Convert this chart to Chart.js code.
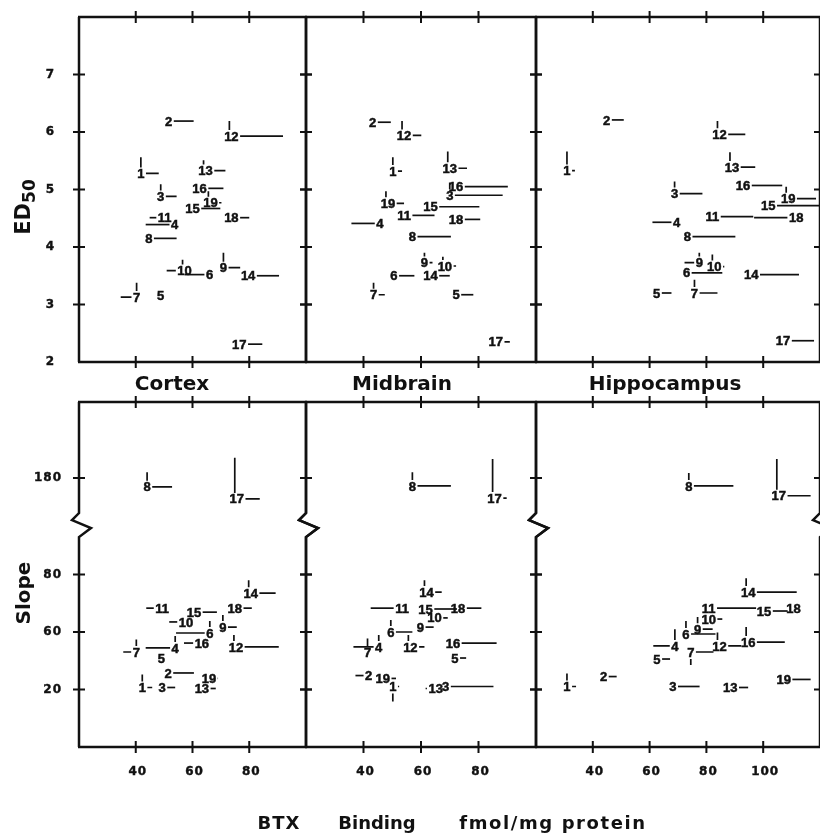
<!DOCTYPE html>
<html>
<head>
<meta charset="utf-8">
<script src="https://cdn.jsdelivr.net/npm/chart.js@4/dist/chart.umd.min.js"></script>
<style>
html, body { margin: 0; padding: 0; background: #fff; width: 820px; height: 835px; overflow: hidden; }
#wrap { position: relative; width: 820px; height: 835px; }
canvas { position: absolute; left: 0; top: 0; }
.t { position: absolute; font-family: "DejaVu Sans"; font-weight: bold; color: #111; white-space: nowrap; transform: translate(-50%, -50%); }
.rot { transform: translate(-50%, -50%) rotate(-90deg); }
</style>
</head>
<body>
<div id="wrap">
  <canvas id="cEd" width="820" height="835"></canvas>
  <canvas id="mEd" width="820" height="835"></canvas>
  <canvas id="hEd" width="840" height="835"></canvas>
  <canvas id="cSl" width="820" height="835"></canvas>
  <canvas id="mSl" width="820" height="835"></canvas>
  <canvas id="hSl" width="840" height="835"></canvas>

  <div class="t" style="left:172px;top:383px;font-size:20px">Cortex</div>
  <div class="t" style="left:402px;top:383px;font-size:20px">Midbrain</div>
  <div class="t" style="left:665px;top:383px;font-size:20px">Hippocampus</div>
  <div class="t rot" style="left:23px;top:207px;font-size:21px">ED<span style="font-size:17px;position:relative;top:5px">50</span></div>
  <div class="t rot" style="left:23px;top:593px;font-size:20px">Slope</div>
  <div class="t" style="left:279px;top:822px;font-size:18px;letter-spacing:1px">BTX</div>
  <div class="t" style="left:377px;top:822px;font-size:18px">Binding</div>
  <div class="t" style="left:553px;top:822px;font-size:18px;letter-spacing:1.6px">fmol/mg protein</div>
</div>

<script>
const ink = '#111';

// drug numbers, same order in every panel
const pointIds = ['1','2','3','4','5','6','7','8','9','10','11','12','13','14','15','16','17','18','19'];

// x = BTX binding, y = ED50 / slope, xEnd = end of horizontal bar, yEnd = end of vertical bar
const cortexEdX    = [41.8, 51.6, 48.8, 53.7, 48.8, 66.0, 40.3, 44.6, 70.9, 57.2, 50.2, 73.7, 64.6, 79.6, 60.0, 62.5, 76.5, 73.7, 66.3];
const cortexEdY    = [5.28, 6.19, 4.88, 4.39, 3.15, 3.52, 3.13, 4.15, 3.64, 3.59, 4.51, 5.93, 5.33, 3.50, 4.67, 5.02, 2.31, 4.51, 4.77];
const cortexEdXEnd = [48.1, 60.4, 54.4, 43.5, null, 57.2, 34.7, 54.4, 76.8, 50.9, 44.9, 91.9, 71.6, 90.5, 69.8, 70.9, 84.6, 80.0, 70.2];
const cortexEdYEnd = [5.56, null, 5.09, null, null, null, 3.38, null, 3.90, 3.78, null, 6.19, 5.51, null, null, null, null, null, 4.97];

const midbrainEdX    = [50.2, 43.2, 70.0, 45.7, 72.2, 50.6, 43.5, 57.0, 61.2, 68.3, 54.1, 54.1, 70.0, 63.3, 63.3, 72.2, 86.0, 72.2, 48.5];
const midbrainEdY    = [5.32, 6.17, 4.90, 4.41, 3.17, 3.50, 3.17, 4.18, 3.73, 3.67, 4.55, 5.94, 5.37, 3.50, 4.70, 5.05, 2.35, 4.48, 4.76];
const midbrainEdXEnd = [53.4, 49.5, 88.4, 35.8, 78.2, 57.7, 47.4, 70.4, 64.0, 72.2, 64.7, 60.1, 76.0, 70.0, 80.3, 90.2, 90.9, 80.6, 54.1];
const midbrainEdYEnd = [5.56, null, 5.12, null, null, null, 3.38, null, 3.90, 3.83, null, 6.19, 5.66, null, null, null, null, null, 4.97];

const hippoEdX    = [30.9, 44.9, 68.8, 69.5, 62.5, 73.0, 75.8, 73.3, 77.5, 82.8, 82.1, 84.6, 89.0, 95.8, 101.8, 92.9, 107.0, 111.6, 108.8];
const hippoEdY    = [5.33, 6.21, 4.93, 4.43, 3.20, 3.55, 3.20, 4.18, 3.73, 3.66, 4.53, 5.96, 5.39, 3.52, 4.72, 5.07, 2.37, 4.51, 4.84];
const hippoEdXEnd = [33.7, 50.9, 78.6, 61.0, 67.7, 85.6, 83.9, 90.2, 72.3, 86.3, 96.5, 93.7, 97.2, 112.6, 122.0, 106.7, 117.9, 96.8, 118.6];
const hippoEdYEnd = [5.66, null, 5.14, null, null, null, 3.43, null, 3.90, 3.87, null, 6.19, 5.65, null, null, null, null, null, 5.05];

const cortexSlX    = [42.3, 51.4, 49.3, 53.9, 49.0, 66.1, 40.2, 44.0, 70.7, 57.7, 49.3, 75.3, 63.3, 80.5, 60.5, 63.3, 75.6, 74.9, 65.8];
const cortexSlY    = [21.4, 31.5, 21.4, 48.9, 41.9, 59.3, 46.1, 176.9, 61.7, 63.5, 68.3, 49.6, 20.7, 73.5, 66.9, 52.3, 172.7, 68.3, 27.7];
const cortexSlXEnd = [45.8, 60.5, 53.9, 43.5, null, 54.2, 35.6, 52.8, 75.6, 51.8, 43.7, 90.4, 68.2, 89.3, 68.6, 57.0, 83.7, 80.9, 69.0];
const cortexSlYEnd = [30.5, null, null, 57.2, null, 63.8, 54.8, 182.0, 65.9, null, null, 57.9, null, 78.0, null, null, 187.0, null, null];

const midbrainSlX    = [50.2, 41.8, 68.6, 45.3, 71.8, 49.5, 41.4, 57.0, 59.8, 64.7, 53.4, 56.3, 65.1, 61.9, 61.6, 71.1, 85.6, 72.9, 46.7];
const midbrainSlY    = [22.1, 29.7, 22.1, 49.6, 41.9, 60.0, 46.1, 177.2, 61.7, 64.9, 68.3, 49.6, 20.7, 73.9, 68.0, 52.3, 173.0, 68.3, 27.7];
const midbrainSlXEnd = [52.4, 37.2, 85.2, 36.5, 75.7, 57.0, null, 70.4, 64.4, 69.3, 42.5, 61.2, 61.6, 67.2, 72.5, 86.3, 89.8, 81.0, 51.3];
const midbrainSlYEnd = [11.6, null, null, 57.9, null, 64.2, 55.5, 182.0, null, null, null, 57.9, null, 78.0, null, null, 186.6, null, null];

const hippoSlX    = [30.9, 43.8, 68.2, 68.9, 62.6, 72.8, 74.5, 73.8, 76.9, 80.8, 80.8, 84.6, 88.4, 94.7, 100.3, 94.7, 105.5, 110.7, 107.2];
const hippoSlY    = [22.1, 29.0, 22.1, 50.3, 41.2, 58.6, 46.1, 177.2, 61.0, 64.5, 68.3, 50.3, 21.4, 73.9, 67.3, 53.0, 173.8, 68.3, 27.0];
const hippoSlXEnd = [34.1, 48.4, 77.6, 61.3, 67.2, 83.2, 82.5, 89.5, 82.2, 85.6, 97.5, 92.3, 94.7, 111.8, 108.6, 107.6, 116.7, null, 116.7];
const hippoSlYEnd = [31.2, null, null, 61.0, null, 63.8, 37.1, 181.7, 65.2, null, null, 59.7, null, 78.7, null, 61.7, 186.6, null, null];

// axis ticks
const edTicks = [2, 3, 4, 5, 6, 7];
const slopeTicks = [20, 60, 80, 180];
const bindTicks = [40, 60, 80];
const bindTicksHippo = [40, 60, 80, 100];

// the slope axis is drawn broken: 20, 60, 80 and 180 sit at equal-ish steps
function slopePos(s) {
    if (s == null) return null;
    if (s >= 120) return 4.68 + (s - 180) / 20;
    if (s >= 60) return 2 + (s - 60) / 20;
    return 1 + (s - 20) / 40;
}

const panelDecor = {
    id: 'panelDecor',
    afterDatasetsDraw(chart, args, opts) {
        const ctx = chart.ctx;
        const xs = chart.scales.x, ys = chart.scales.y;
        const a = chart.chartArea;
        ctx.save();
        ctx.strokeStyle = ink;
        ctx.fillStyle = ink;

        // frame, with the break marks on the slope panels
        ctx.lineWidth = 2.5;
        ctx.beginPath();
        ctx.moveTo(a.left - 1, a.top); ctx.lineTo(a.right + 1, a.top);
        ctx.moveTo(a.left - 1, a.bottom); ctx.lineTo(a.right + 1, a.bottom);
        [a.left, a.right].forEach(function(xp) {
            ctx.moveTo(xp, a.bottom);
            if (opts.breakAt != null) {
                const yb = ys.getPixelForValue(opts.breakAt);
                ctx.lineTo(xp, yb + 12);
                ctx.lineTo(xp + 12, yb + 3);
                ctx.lineTo(xp - 7, yb - 5);
                ctx.lineTo(xp, yb - 12);
            }
            ctx.lineTo(xp, a.top);
        });
        ctx.stroke();

        // tick crosses
        ctx.lineWidth = 2;
        ctx.beginPath();
        opts.xTicks.forEach(function(v) {
            const p = xs.getPixelForValue(v);
            [a.top, a.bottom].forEach(function(yp) { ctx.moveTo(p, yp - 6); ctx.lineTo(p, yp + 6); });
        });
        opts.yTicks.forEach(function(v) {
            const p = ys.getPixelForValue(opts.yMap(v));
            if (p > a.bottom - 3) return;
            [a.left, a.right].forEach(function(xp) { ctx.moveTo(xp - 6, p); ctx.lineTo(xp + 6, p); });
        });
        ctx.stroke();

        // tick labels
        ctx.font = 'bold 12px "DejaVu Sans"';
        ctx.letterSpacing = '1px';
        ctx.lineWidth = 0.4;
        if (opts.yLabelRight) {
            ctx.textAlign = 'right';
            ctx.textBaseline = 'middle';
            opts.yTicks.forEach(function(v) {
                const yp = ys.getPixelForValue(opts.yMap(v));
                ctx.fillText(String(v), opts.yLabelRight, yp);
                ctx.strokeText(String(v), opts.yLabelRight, yp);
            });
        }
        if (opts.xLabels) {
            ctx.textAlign = 'center';
            ctx.textBaseline = 'middle';
            opts.xTicks.forEach(function(v) {
                const xp = xs.getPixelForValue(v) + 2;
                ctx.fillText(String(v), xp, a.bottom + 25);
                ctx.strokeText(String(v), xp, a.bottom + 25);
            });
        }
        ctx.letterSpacing = '0px';

        // numbered points with their bars
        const meta = chart.getDatasetMeta(0);
        const pts = chart.data.datasets[0].data;
        ctx.font = 'bold 13px "Liberation Sans"';
        ctx.textAlign = 'center';
        ctx.textBaseline = 'middle';
        meta.data.forEach(function(el, i) {
            const d = pts[i];
            const px = el.x, py = el.y;
            const w = ctx.measureText(d.id).width;
            ctx.lineWidth = 0.5;
            ctx.fillText(d.id, px, py + 1);
            ctx.strokeText(d.id, px, py + 1);
            ctx.lineWidth = 1.7;
            ctx.beginPath();
            if (d.xEnd != null) {
                const ex = xs.getPixelForValue(d.xEnd);
                const sx = ex > px ? px + w / 2 + 1.5 : px - w / 2 - 1.5;
                ctx.moveTo(sx, py); ctx.lineTo(ex, py);
            }
            if (d.yEnd != null) {
                const ey = ys.getPixelForValue(d.yEnd);
                const vx = d.id.length > 1 ? px - 2 : px;
                const sy = ey < py ? py - 6 : py + 7;
                ctx.moveTo(vx, sy); ctx.lineTo(vx, ey);
            }
            ctx.stroke();
        });
        ctx.restore();
    }
};

function makePanel(id, xs, ys, xEnd, yEnd, opt) {
    const yMap = opt.yMap;
    const pts = pointIds.map(function(pid, i) {
        return { x: xs[i], y: yMap(ys[i]), id: pid, xEnd: xEnd[i], yEnd: yMap(yEnd[i]) };
    });
    return new Chart(document.getElementById(id), {
        type: 'scatter',
        data: { datasets: [{ data: pts, pointRadius: 0, pointHoverRadius: 0 }] },
        options: {
            responsive: false,
            animation: false,
            events: [],
            layout: { padding: opt.pad },
            plugins: {
                legend: { display: false },
                tooltip: { enabled: false },
                panelDecor: {
                    xTicks: opt.xTicks,
                    yTicks: opt.yTicks,
                    yMap: yMap,
                    yLabelRight: opt.yLabelRight,
                    xLabels: opt.xLabels,
                    breakAt: opt.breakAt
                }
            },
            scales: {
                x: { type: 'linear', min: opt.xMin, max: opt.xMax, display: false },
                y: { type: 'linear', min: opt.yMin, max: opt.yMax, display: false }
            }
        },
        plugins: [panelDecor]
    });
}

const same = function(v) { return v; };
const edRow = { yMap: same, yMin: 2, yMax: 8, yTicks: edTicks, xLabels: false };
const slRow = { yMap: slopePos, yMin: 0, yMax: 6, yTicks: slopeTicks, xLabels: true, breakAt: 3.86 };

makePanel('cEd', cortexEdX, cortexEdY, cortexEdXEnd, cortexEdYEnd, Object.assign({}, edRow,
    { xMin: 20, xMax: 100, xTicks: bindTicks, yLabelRight: 55, pad: { left: 79, right: 514, top: 17, bottom: 473 } }));
makePanel('mEd', midbrainEdX, midbrainEdY, midbrainEdXEnd, midbrainEdYEnd, Object.assign({}, edRow,
    { xMin: 20, xMax: 100, xTicks: bindTicks, pad: { left: 306, right: 284, top: 17, bottom: 473 } }));
makePanel('hEd', hippoEdX, hippoEdY, hippoEdXEnd, hippoEdYEnd, Object.assign({}, edRow,
    { xMin: 20, xMax: 120, xTicks: bindTicksHippo, pad: { left: 536, right: 20, top: 17, bottom: 473 } }));

makePanel('cSl', cortexSlX, cortexSlY, cortexSlXEnd, cortexSlYEnd, Object.assign({}, slRow,
    { xMin: 20, xMax: 100, xTicks: bindTicks, yLabelRight: 62, pad: { left: 79, right: 514, top: 402, bottom: 88 } }));
makePanel('mSl', midbrainSlX, midbrainSlY, midbrainSlXEnd, midbrainSlYEnd, Object.assign({}, slRow,
    { xMin: 20, xMax: 100, xTicks: bindTicks, pad: { left: 306, right: 284, top: 402, bottom: 88 } }));
makePanel('hSl', hippoSlX, hippoSlY, hippoSlXEnd, hippoSlYEnd, Object.assign({}, slRow,
    { xMin: 20, xMax: 120, xTicks: bindTicksHippo, pad: { left: 536, right: 20, top: 402, bottom: 88 } }));
</script>
</body>
</html>
